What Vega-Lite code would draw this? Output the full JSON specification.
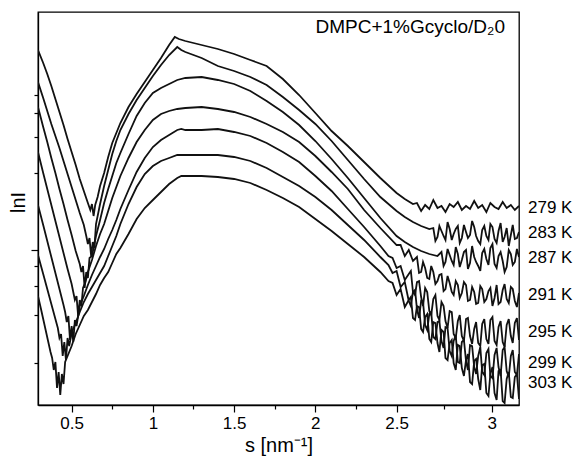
{
"$schema":"https://vega.github.io/schema/vega-lite/v6.json",
"width":481,"height":393,
"autosize":{"type":"none"},
"padding":{"left":38,"top":12,"right":59,"bottom":56},
"background":"white",
"config":{"font":"Liberation Sans","view":{"stroke":"#000","strokeWidth":1.3},"axis":{"domainColor":"#000","domainWidth":1.3,"tickColor":"#000","tickWidth":1.2,"labelColor":"#000","titleColor":"#000","grid":false}},
"title":{"text":"DMPC+1%Gcyclo/D₂0","anchor":"end","frame":"group","offset":-25,"dx":-14,"fontSize":19,"fontWeight":"normal","color":"#000","font":"Liberation Sans"},
"layer":[
{"data":{"values":[
{"T":"279 K","s":0.293,"lnI":362},{"T":"279 K","s":0.325,"lnI":349},{"T":"279 K","s":0.35,"lnI":338},{"T":"279 K","s":0.375,"lnI":326},{"T":"279 K","s":0.4,"lnI":313},{"T":"279 K","s":0.425,"lnI":300},{"T":"279 K","s":0.45,"lnI":287},{"T":"279 K","s":0.475,"lnI":273},{"T":"279 K","s":0.5,"lnI":260},{"T":"279 K","s":0.525,"lnI":247},{"T":"279 K","s":0.55,"lnI":233},{"T":"279 K","s":0.575,"lnI":221},{"T":"279 K","s":0.6,"lnI":209},{"T":"279 K","s":0.615,"lnI":202},{"T":"279 K","s":0.625,"lnI":208},{"T":"279 K","s":0.635,"lnI":196},{"T":"279 K","s":0.645,"lnI":207},{"T":"279 K","s":0.66,"lnI":215},{"T":"279 K","s":0.675,"lnI":226},{"T":"279 K","s":0.7,"lnI":239},{"T":"279 K","s":0.725,"lnI":255},{"T":"279 K","s":0.75,"lnI":269},{"T":"279 K","s":0.775,"lnI":279},{"T":"279 K","s":0.8,"lnI":289},{"T":"279 K","s":0.85,"lnI":305},{"T":"279 K","s":0.9,"lnI":318},{"T":"279 K","s":0.95,"lnI":330},{"T":"279 K","s":1.0,"lnI":342},{"T":"279 K","s":1.05,"lnI":354},{"T":"279 K","s":1.1,"lnI":367},{"T":"279 K","s":1.135,"lnI":375},{"T":"279 K","s":1.16,"lnI":373},{"T":"279 K","s":1.2,"lnI":371},{"T":"279 K","s":1.3,"lnI":367},{"T":"279 K","s":1.4,"lnI":363},{"T":"279 K","s":1.5,"lnI":358},{"T":"279 K","s":1.6,"lnI":352},{"T":"279 K","s":1.7,"lnI":346},{"T":"279 K","s":1.8,"lnI":333},{"T":"279 K","s":1.9,"lnI":317},{"T":"279 K","s":2.0,"lnI":299},{"T":"279 K","s":2.1,"lnI":281},{"T":"279 K","s":2.2,"lnI":266},{"T":"279 K","s":2.3,"lnI":250},{"T":"279 K","s":2.4,"lnI":234},{"T":"279 K","s":2.5,"lnI":219},{"T":"279 K","s":2.543,"lnI":213},{"T":"279 K","s":2.586,"lnI":208},
{"T":"279 K","s":2.607,"lnI":209},{"T":"279 K","s":2.629,"lnI":201},{"T":"279 K","s":2.65,"lnI":207},{"T":"279 K","s":2.672,"lnI":203},{"T":"279 K","s":2.693,"lnI":212},{"T":"279 K","s":2.715,"lnI":204},{"T":"279 K","s":2.736,"lnI":206},{"T":"279 K","s":2.757,"lnI":200},{"T":"279 K","s":2.779,"lnI":208},{"T":"279 K","s":2.8,"lnI":205},{"T":"279 K","s":2.822,"lnI":210},{"T":"279 K","s":2.843,"lnI":202},{"T":"279 K","s":2.865,"lnI":206},{"T":"279 K","s":2.886,"lnI":203},{"T":"279 K","s":2.908,"lnI":211},{"T":"279 K","s":2.929,"lnI":204},{"T":"279 K","s":2.95,"lnI":207},{"T":"279 K","s":2.972,"lnI":200},{"T":"279 K","s":2.993,"lnI":209},{"T":"279 K","s":3.015,"lnI":205},{"T":"279 K","s":3.036,"lnI":203},{"T":"279 K","s":3.058,"lnI":210},{"T":"279 K","s":3.079,"lnI":204},{"T":"279 K","s":3.101,"lnI":207},{"T":"279 K","s":3.122,"lnI":202},{"T":"279 K","s":3.144,"lnI":206},

{"T":"283 K","s":0.293,"lnI":330},{"T":"283 K","s":0.325,"lnI":314},{"T":"283 K","s":0.35,"lnI":301},{"T":"283 K","s":0.375,"lnI":288},{"T":"283 K","s":0.4,"lnI":276},{"T":"283 K","s":0.425,"lnI":264},{"T":"283 K","s":0.45,"lnI":251},{"T":"283 K","s":0.475,"lnI":238},{"T":"283 K","s":0.5,"lnI":225},{"T":"283 K","s":0.525,"lnI":212},{"T":"283 K","s":0.55,"lnI":199},{"T":"283 K","s":0.575,"lnI":187},{"T":"283 K","s":0.59,"lnI":176},{"T":"283 K","s":0.6,"lnI":168},{"T":"283 K","s":0.61,"lnI":174},{"T":"283 K","s":0.62,"lnI":156},{"T":"283 K","s":0.63,"lnI":170},{"T":"283 K","s":0.64,"lnI":164},{"T":"283 K","s":0.65,"lnI":188},{"T":"283 K","s":0.675,"lnI":208},{"T":"283 K","s":0.7,"lnI":226},{"T":"283 K","s":0.725,"lnI":242},{"T":"283 K","s":0.75,"lnI":258},{"T":"283 K","s":0.775,"lnI":271},{"T":"283 K","s":0.8,"lnI":282},{"T":"283 K","s":0.85,"lnI":298},{"T":"283 K","s":0.9,"lnI":312},{"T":"283 K","s":0.95,"lnI":324},{"T":"283 K","s":1.0,"lnI":336},{"T":"283 K","s":1.05,"lnI":347},{"T":"283 K","s":1.1,"lnI":357},{"T":"283 K","s":1.15,"lnI":365},{"T":"283 K","s":1.175,"lnI":362},{"T":"283 K","s":1.2,"lnI":360},{"T":"283 K","s":1.3,"lnI":354},{"T":"283 K","s":1.4,"lnI":346},{"T":"283 K","s":1.5,"lnI":341},{"T":"283 K","s":1.6,"lnI":335},{"T":"283 K","s":1.7,"lnI":327},{"T":"283 K","s":1.8,"lnI":315},{"T":"283 K","s":1.9,"lnI":302},{"T":"283 K","s":2.0,"lnI":288},{"T":"283 K","s":2.1,"lnI":271},{"T":"283 K","s":2.2,"lnI":252},{"T":"283 K","s":2.3,"lnI":233},{"T":"283 K","s":2.4,"lnI":215},{"T":"283 K","s":2.5,"lnI":201},{"T":"283 K","s":2.543,"lnI":195},{"T":"283 K","s":2.586,"lnI":190},{"T":"283 K","s":2.629,"lnI":186},{"T":"283 K","s":2.672,"lnI":183},
{"T":"283 K","s":2.693,"lnI":184},{"T":"283 K","s":2.704,"lnI":171},{"T":"283 K","s":2.715,"lnI":175},{"T":"283 K","s":2.725,"lnI":186},{"T":"283 K","s":2.736,"lnI":181},{"T":"283 K","s":2.747,"lnI":176},{"T":"283 K","s":2.757,"lnI":172},{"T":"283 K","s":2.768,"lnI":190},{"T":"283 K","s":2.779,"lnI":183},{"T":"283 K","s":2.79,"lnI":172},{"T":"283 K","s":2.8,"lnI":178},{"T":"283 K","s":2.811,"lnI":183},{"T":"283 K","s":2.822,"lnI":186},{"T":"283 K","s":2.832,"lnI":169},{"T":"283 K","s":2.843,"lnI":174},{"T":"283 K","s":2.854,"lnI":187},{"T":"283 K","s":2.865,"lnI":180},{"T":"283 K","s":2.875,"lnI":174},{"T":"283 K","s":2.886,"lnI":177},{"T":"283 K","s":2.897,"lnI":191},{"T":"283 K","s":2.908,"lnI":185},{"T":"283 K","s":2.918,"lnI":176},{"T":"283 K","s":2.929,"lnI":171},{"T":"283 K","s":2.94,"lnI":168},{"T":"283 K","s":2.95,"lnI":182},{"T":"283 K","s":2.961,"lnI":186},{"T":"283 K","s":2.972,"lnI":176},{"T":"283 K","s":2.983,"lnI":172},{"T":"283 K","s":2.993,"lnI":188},{"T":"283 K","s":3.004,"lnI":185},{"T":"283 K","s":3.015,"lnI":173},{"T":"283 K","s":3.026,"lnI":169},{"T":"283 K","s":3.036,"lnI":181},{"T":"283 K","s":3.047,"lnI":189},{"T":"283 K","s":3.058,"lnI":170},{"T":"283 K","s":3.068,"lnI":175},{"T":"283 K","s":3.079,"lnI":184},{"T":"283 K","s":3.09,"lnI":166},{"T":"283 K","s":3.101,"lnI":177},{"T":"283 K","s":3.111,"lnI":187},{"T":"283 K","s":3.122,"lnI":173},{"T":"283 K","s":3.133,"lnI":174},{"T":"283 K","s":3.144,"lnI":180},

{"T":"287 K","s":0.293,"lnI":305},{"T":"287 K","s":0.325,"lnI":285},{"T":"287 K","s":0.35,"lnI":270},{"T":"287 K","s":0.375,"lnI":254},{"T":"287 K","s":0.4,"lnI":239},{"T":"287 K","s":0.425,"lnI":223},{"T":"287 K","s":0.45,"lnI":208},{"T":"287 K","s":0.475,"lnI":192},{"T":"287 K","s":0.5,"lnI":177},{"T":"287 K","s":0.525,"lnI":161},{"T":"287 K","s":0.55,"lnI":148},{"T":"287 K","s":0.56,"lnI":140},{"T":"287 K","s":0.57,"lnI":146},{"T":"287 K","s":0.58,"lnI":124},{"T":"287 K","s":0.59,"lnI":140},{"T":"287 K","s":0.6,"lnI":134},{"T":"287 K","s":0.61,"lnI":154},{"T":"287 K","s":0.625,"lnI":156},{"T":"287 K","s":0.65,"lnI":176},{"T":"287 K","s":0.675,"lnI":192},{"T":"287 K","s":0.7,"lnI":209},{"T":"287 K","s":0.725,"lnI":223},{"T":"287 K","s":0.75,"lnI":236},{"T":"287 K","s":0.775,"lnI":249},{"T":"287 K","s":0.8,"lnI":259},{"T":"287 K","s":0.85,"lnI":278},{"T":"287 K","s":0.9,"lnI":296},{"T":"287 K","s":0.95,"lnI":309},{"T":"287 K","s":1.0,"lnI":319},{"T":"287 K","s":1.05,"lnI":324},{"T":"287 K","s":1.1,"lnI":328},{"T":"287 K","s":1.15,"lnI":332},{"T":"287 K","s":1.2,"lnI":334},{"T":"287 K","s":1.3,"lnI":335},{"T":"287 K","s":1.4,"lnI":332},{"T":"287 K","s":1.5,"lnI":328},{"T":"287 K","s":1.6,"lnI":321},{"T":"287 K","s":1.7,"lnI":311},{"T":"287 K","s":1.8,"lnI":300},{"T":"287 K","s":1.9,"lnI":287},{"T":"287 K","s":2.0,"lnI":271},{"T":"287 K","s":2.1,"lnI":253},{"T":"287 K","s":2.2,"lnI":234},{"T":"287 K","s":2.3,"lnI":214},{"T":"287 K","s":2.4,"lnI":194},{"T":"287 K","s":2.5,"lnI":176},{"T":"287 K","s":2.543,"lnI":170},{"T":"287 K","s":2.586,"lnI":165},{"T":"287 K","s":2.629,"lnI":161},{"T":"287 K","s":2.672,"lnI":158},{"T":"287 K","s":2.715,"lnI":156},
{"T":"287 K","s":2.736,"lnI":160},{"T":"287 K","s":2.747,"lnI":146},{"T":"287 K","s":2.757,"lnI":150},{"T":"287 K","s":2.768,"lnI":163},{"T":"287 K","s":2.779,"lnI":157},{"T":"287 K","s":2.79,"lnI":151},{"T":"287 K","s":2.8,"lnI":147},{"T":"287 K","s":2.811,"lnI":165},{"T":"287 K","s":2.822,"lnI":158},{"T":"287 K","s":2.832,"lnI":145},{"T":"287 K","s":2.843,"lnI":152},{"T":"287 K","s":2.854,"lnI":160},{"T":"287 K","s":2.865,"lnI":162},{"T":"287 K","s":2.875,"lnI":143},{"T":"287 K","s":2.886,"lnI":149},{"T":"287 K","s":2.897,"lnI":166},{"T":"287 K","s":2.908,"lnI":155},{"T":"287 K","s":2.918,"lnI":150},{"T":"287 K","s":2.929,"lnI":146},{"T":"287 K","s":2.94,"lnI":141},{"T":"287 K","s":2.95,"lnI":159},{"T":"287 K","s":2.961,"lnI":163},{"T":"287 K","s":2.972,"lnI":153},{"T":"287 K","s":2.983,"lnI":147},{"T":"287 K","s":2.993,"lnI":164},{"T":"287 K","s":3.004,"lnI":168},{"T":"287 K","s":3.015,"lnI":148},{"T":"287 K","s":3.026,"lnI":144},{"T":"287 K","s":3.036,"lnI":156},{"T":"287 K","s":3.047,"lnI":160},{"T":"287 K","s":3.058,"lnI":151},{"T":"287 K","s":3.068,"lnI":140},{"T":"287 K","s":3.079,"lnI":145},{"T":"287 K","s":3.09,"lnI":162},{"T":"287 K","s":3.101,"lnI":158},{"T":"287 K","s":3.111,"lnI":147},{"T":"287 K","s":3.122,"lnI":150},{"T":"287 K","s":3.133,"lnI":163},{"T":"287 K","s":3.144,"lnI":155},

{"T":"291 K","s":0.293,"lnI":260},{"T":"291 K","s":0.325,"lnI":239},{"T":"291 K","s":0.35,"lnI":223},{"T":"291 K","s":0.375,"lnI":207},{"T":"291 K","s":0.4,"lnI":191},{"T":"291 K","s":0.425,"lnI":175},{"T":"291 K","s":0.45,"lnI":159},{"T":"291 K","s":0.475,"lnI":143},{"T":"291 K","s":0.5,"lnI":128},{"T":"291 K","s":0.51,"lnI":120},{"T":"291 K","s":0.52,"lnI":112},{"T":"291 K","s":0.53,"lnI":116},{"T":"291 K","s":0.54,"lnI":96},{"T":"291 K","s":0.55,"lnI":112},{"T":"291 K","s":0.56,"lnI":106},{"T":"291 K","s":0.57,"lnI":124},{"T":"291 K","s":0.585,"lnI":130},{"T":"291 K","s":0.6,"lnI":140},{"T":"291 K","s":0.625,"lnI":152},{"T":"291 K","s":0.65,"lnI":166},{"T":"291 K","s":0.675,"lnI":178},{"T":"291 K","s":0.7,"lnI":188},{"T":"291 K","s":0.725,"lnI":201},{"T":"291 K","s":0.75,"lnI":214},{"T":"291 K","s":0.775,"lnI":225},{"T":"291 K","s":0.8,"lnI":236},{"T":"291 K","s":0.85,"lnI":254},{"T":"291 K","s":0.9,"lnI":270},{"T":"291 K","s":0.95,"lnI":282},{"T":"291 K","s":1.0,"lnI":292},{"T":"291 K","s":1.05,"lnI":298},{"T":"291 K","s":1.1,"lnI":301},{"T":"291 K","s":1.15,"lnI":303},{"T":"291 K","s":1.2,"lnI":304},{"T":"291 K","s":1.3,"lnI":305},{"T":"291 K","s":1.4,"lnI":303},{"T":"291 K","s":1.5,"lnI":300},{"T":"291 K","s":1.6,"lnI":295},{"T":"291 K","s":1.7,"lnI":288},{"T":"291 K","s":1.8,"lnI":280},{"T":"291 K","s":1.9,"lnI":270},{"T":"291 K","s":2.0,"lnI":256},{"T":"291 K","s":2.1,"lnI":240},{"T":"291 K","s":2.2,"lnI":223},{"T":"291 K","s":2.3,"lnI":202},{"T":"291 K","s":2.4,"lnI":184},{"T":"291 K","s":2.5,"lnI":167},
{"T":"291 K","s":2.521,"lnI":167},{"T":"291 K","s":2.543,"lnI":156},{"T":"291 K","s":2.564,"lnI":162},{"T":"291 K","s":2.586,"lnI":151},{"T":"291 K","s":2.607,"lnI":155},{"T":"291 K","s":2.618,"lnI":139},{"T":"291 K","s":2.629,"lnI":140},{"T":"291 K","s":2.639,"lnI":150},{"T":"291 K","s":2.65,"lnI":144},{"T":"291 K","s":2.661,"lnI":134},{"T":"291 K","s":2.672,"lnI":133},{"T":"291 K","s":2.682,"lnI":146},{"T":"291 K","s":2.693,"lnI":140},{"T":"291 K","s":2.704,"lnI":128},{"T":"291 K","s":2.715,"lnI":131},{"T":"291 K","s":2.725,"lnI":137},{"T":"291 K","s":2.736,"lnI":138},{"T":"291 K","s":2.747,"lnI":121},{"T":"291 K","s":2.757,"lnI":123},{"T":"291 K","s":2.768,"lnI":136},{"T":"291 K","s":2.779,"lnI":129},{"T":"291 K","s":2.79,"lnI":120},{"T":"291 K","s":2.8,"lnI":117},{"T":"291 K","s":2.811,"lnI":131},{"T":"291 K","s":2.822,"lnI":127},{"T":"291 K","s":2.832,"lnI":114},{"T":"291 K","s":2.843,"lnI":119},{"T":"291 K","s":2.854,"lnI":130},{"T":"291 K","s":2.865,"lnI":127},{"T":"291 K","s":2.875,"lnI":111},{"T":"291 K","s":2.886,"lnI":112},{"T":"291 K","s":2.897,"lnI":125},{"T":"291 K","s":2.908,"lnI":120},{"T":"291 K","s":2.918,"lnI":108},{"T":"291 K","s":2.929,"lnI":109},{"T":"291 K","s":2.94,"lnI":126},{"T":"291 K","s":2.95,"lnI":123},{"T":"291 K","s":2.961,"lnI":110},{"T":"291 K","s":2.972,"lnI":113},{"T":"291 K","s":2.983,"lnI":121},{"T":"291 K","s":2.993,"lnI":124},{"T":"291 K","s":3.004,"lnI":106},{"T":"291 K","s":3.015,"lnI":114},{"T":"291 K","s":3.026,"lnI":127},{"T":"291 K","s":3.036,"lnI":108},{"T":"291 K","s":3.047,"lnI":110},{"T":"291 K","s":3.058,"lnI":122},{"T":"291 K","s":3.068,"lnI":128},{"T":"291 K","s":3.079,"lnI":113},{"T":"291 K","s":3.09,"lnI":109},{"T":"291 K","s":3.101,"lnI":125},{"T":"291 K","s":3.111,"lnI":123},{"T":"291 K","s":3.122,"lnI":111},{"T":"291 K","s":3.133,"lnI":105},{"T":"291 K","s":3.144,"lnI":119},

{"T":"295 K","s":0.293,"lnI":207},{"T":"295 K","s":0.325,"lnI":187},{"T":"295 K","s":0.35,"lnI":171},{"T":"295 K","s":0.375,"lnI":155},{"T":"295 K","s":0.4,"lnI":139},{"T":"295 K","s":0.425,"lnI":123},{"T":"295 K","s":0.45,"lnI":107},{"T":"295 K","s":0.46,"lnI":100},{"T":"295 K","s":0.47,"lnI":90},{"T":"295 K","s":0.48,"lnI":96},{"T":"295 K","s":0.49,"lnI":72},{"T":"295 K","s":0.5,"lnI":86},{"T":"295 K","s":0.51,"lnI":70},{"T":"295 K","s":0.52,"lnI":92},{"T":"295 K","s":0.53,"lnI":86},{"T":"295 K","s":0.55,"lnI":106},{"T":"295 K","s":0.575,"lnI":116},{"T":"295 K","s":0.6,"lnI":127},{"T":"295 K","s":0.625,"lnI":137},{"T":"295 K","s":0.65,"lnI":146},{"T":"295 K","s":0.675,"lnI":155},{"T":"295 K","s":0.7,"lnI":163},{"T":"295 K","s":0.725,"lnI":173},{"T":"295 K","s":0.75,"lnI":182},{"T":"295 K","s":0.775,"lnI":192},{"T":"295 K","s":0.8,"lnI":203},{"T":"295 K","s":0.85,"lnI":222},{"T":"295 K","s":0.9,"lnI":240},{"T":"295 K","s":0.95,"lnI":254},{"T":"295 K","s":1.0,"lnI":265},{"T":"295 K","s":1.05,"lnI":272},{"T":"295 K","s":1.1,"lnI":277},{"T":"295 K","s":1.15,"lnI":282},{"T":"295 K","s":1.175,"lnI":283},{"T":"295 K","s":1.2,"lnI":282},{"T":"295 K","s":1.3,"lnI":282},{"T":"295 K","s":1.4,"lnI":283},{"T":"295 K","s":1.5,"lnI":280},{"T":"295 K","s":1.6,"lnI":276},{"T":"295 K","s":1.7,"lnI":269},{"T":"295 K","s":1.8,"lnI":260},{"T":"295 K","s":1.9,"lnI":250},{"T":"295 K","s":2.0,"lnI":236},{"T":"295 K","s":2.1,"lnI":221},{"T":"295 K","s":2.2,"lnI":203},{"T":"295 K","s":2.3,"lnI":185},{"T":"295 K","s":2.4,"lnI":166},{"T":"295 K","s":2.45,"lnI":156},
{"T":"295 K","s":2.475,"lnI":154},{"T":"295 K","s":2.5,"lnI":144},{"T":"295 K","s":2.521,"lnI":146},{"T":"295 K","s":2.543,"lnI":132},{"T":"295 K","s":2.564,"lnI":138},{"T":"295 K","s":2.575,"lnI":141},{"T":"295 K","s":2.586,"lnI":120},{"T":"295 K","s":2.597,"lnI":117},{"T":"295 K","s":2.607,"lnI":130},{"T":"295 K","s":2.618,"lnI":131},{"T":"295 K","s":2.629,"lnI":115},{"T":"295 K","s":2.639,"lnI":106},{"T":"295 K","s":2.65,"lnI":124},{"T":"295 K","s":2.661,"lnI":120},{"T":"295 K","s":2.672,"lnI":101},{"T":"295 K","s":2.682,"lnI":97},{"T":"295 K","s":2.693,"lnI":113},{"T":"295 K","s":2.704,"lnI":117},{"T":"295 K","s":2.715,"lnI":96},{"T":"295 K","s":2.725,"lnI":92},{"T":"295 K","s":2.736,"lnI":110},{"T":"295 K","s":2.747,"lnI":106},{"T":"295 K","s":2.757,"lnI":91},{"T":"295 K","s":2.768,"lnI":84},{"T":"295 K","s":2.779,"lnI":101},{"T":"295 K","s":2.79,"lnI":100},{"T":"295 K","s":2.8,"lnI":78},{"T":"295 K","s":2.811,"lnI":74},{"T":"295 K","s":2.822,"lnI":91},{"T":"295 K","s":2.832,"lnI":97},{"T":"295 K","s":2.843,"lnI":76},{"T":"295 K","s":2.854,"lnI":71},{"T":"295 K","s":2.865,"lnI":93},{"T":"295 K","s":2.875,"lnI":94},{"T":"295 K","s":2.886,"lnI":76},{"T":"295 K","s":2.897,"lnI":68},{"T":"295 K","s":2.908,"lnI":83},{"T":"295 K","s":2.918,"lnI":90},{"T":"295 K","s":2.929,"lnI":69},{"T":"295 K","s":2.94,"lnI":66},{"T":"295 K","s":2.95,"lnI":88},{"T":"295 K","s":2.961,"lnI":93},{"T":"295 K","s":2.972,"lnI":73},{"T":"295 K","s":2.983,"lnI":68},{"T":"295 K","s":2.993,"lnI":92},{"T":"295 K","s":3.004,"lnI":95},{"T":"295 K","s":3.015,"lnI":71},{"T":"295 K","s":3.026,"lnI":67},{"T":"295 K","s":3.036,"lnI":85},{"T":"295 K","s":3.047,"lnI":91},{"T":"295 K","s":3.058,"lnI":70},{"T":"295 K","s":3.068,"lnI":65},{"T":"295 K","s":3.079,"lnI":87},{"T":"295 K","s":3.09,"lnI":93},{"T":"295 K","s":3.101,"lnI":76},{"T":"295 K","s":3.111,"lnI":69},{"T":"295 K","s":3.122,"lnI":89},{"T":"295 K","s":3.133,"lnI":94},{"T":"295 K","s":3.144,"lnI":72},

{"T":"299 K","s":0.293,"lnI":157},{"T":"299 K","s":0.325,"lnI":138},{"T":"299 K","s":0.35,"lnI":123},{"T":"299 K","s":0.375,"lnI":108},{"T":"299 K","s":0.4,"lnI":93},{"T":"299 K","s":0.415,"lnI":84},{"T":"299 K","s":0.425,"lnI":74},{"T":"299 K","s":0.435,"lnI":78},{"T":"299 K","s":0.445,"lnI":56},{"T":"299 K","s":0.455,"lnI":70},{"T":"299 K","s":0.465,"lnI":52},{"T":"299 K","s":0.475,"lnI":74},{"T":"299 K","s":0.485,"lnI":66},{"T":"299 K","s":0.5,"lnI":79},{"T":"299 K","s":0.525,"lnI":89},{"T":"299 K","s":0.55,"lnI":100},{"T":"299 K","s":0.575,"lnI":110},{"T":"299 K","s":0.6,"lnI":118},{"T":"299 K","s":0.625,"lnI":125},{"T":"299 K","s":0.65,"lnI":132},{"T":"299 K","s":0.675,"lnI":139},{"T":"299 K","s":0.7,"lnI":146},{"T":"299 K","s":0.725,"lnI":156},{"T":"299 K","s":0.75,"lnI":166},{"T":"299 K","s":0.775,"lnI":176},{"T":"299 K","s":0.8,"lnI":188},{"T":"299 K","s":0.85,"lnI":208},{"T":"299 K","s":0.9,"lnI":225},{"T":"299 K","s":0.95,"lnI":238},{"T":"299 K","s":1.0,"lnI":246},{"T":"299 K","s":1.05,"lnI":251},{"T":"299 K","s":1.1,"lnI":254},{"T":"299 K","s":1.15,"lnI":257},{"T":"299 K","s":1.2,"lnI":257},{"T":"299 K","s":1.3,"lnI":257},{"T":"299 K","s":1.4,"lnI":257},{"T":"299 K","s":1.5,"lnI":255},{"T":"299 K","s":1.6,"lnI":251},{"T":"299 K","s":1.7,"lnI":244},{"T":"299 K","s":1.8,"lnI":235},{"T":"299 K","s":1.9,"lnI":226},{"T":"299 K","s":2.0,"lnI":215},{"T":"299 K","s":2.1,"lnI":202},{"T":"299 K","s":2.2,"lnI":187},{"T":"299 K","s":2.3,"lnI":172},{"T":"299 K","s":2.4,"lnI":155},{"T":"299 K","s":2.45,"lnI":147},
{"T":"299 K","s":2.475,"lnI":139},{"T":"299 K","s":2.5,"lnI":141},{"T":"299 K","s":2.521,"lnI":125},{"T":"299 K","s":2.543,"lnI":130},{"T":"299 K","s":2.564,"lnI":111},{"T":"299 K","s":2.575,"lnI":106},{"T":"299 K","s":2.586,"lnI":120},{"T":"299 K","s":2.597,"lnI":122},{"T":"299 K","s":2.607,"lnI":103},{"T":"299 K","s":2.618,"lnI":94},{"T":"299 K","s":2.629,"lnI":111},{"T":"299 K","s":2.639,"lnI":110},{"T":"299 K","s":2.65,"lnI":87},{"T":"299 K","s":2.661,"lnI":82},{"T":"299 K","s":2.672,"lnI":98},{"T":"299 K","s":2.682,"lnI":100},{"T":"299 K","s":2.693,"lnI":75},{"T":"299 K","s":2.704,"lnI":73},{"T":"299 K","s":2.715,"lnI":90},{"T":"299 K","s":2.725,"lnI":91},{"T":"299 K","s":2.736,"lnI":71},{"T":"299 K","s":2.747,"lnI":64},{"T":"299 K","s":2.757,"lnI":85},{"T":"299 K","s":2.768,"lnI":84},{"T":"299 K","s":2.779,"lnI":61},{"T":"299 K","s":2.79,"lnI":56},{"T":"299 K","s":2.8,"lnI":71},{"T":"299 K","s":2.811,"lnI":77},{"T":"299 K","s":2.822,"lnI":50},{"T":"299 K","s":2.832,"lnI":49},{"T":"299 K","s":2.843,"lnI":70},{"T":"299 K","s":2.854,"lnI":72},{"T":"299 K","s":2.865,"lnI":51},{"T":"299 K","s":2.875,"lnI":42},{"T":"299 K","s":2.886,"lnI":67},{"T":"299 K","s":2.897,"lnI":66},{"T":"299 K","s":2.908,"lnI":45},{"T":"299 K","s":2.918,"lnI":38},{"T":"299 K","s":2.929,"lnI":56},{"T":"299 K","s":2.94,"lnI":65},{"T":"299 K","s":2.95,"lnI":40},{"T":"299 K","s":2.961,"lnI":37},{"T":"299 K","s":2.972,"lnI":59},{"T":"299 K","s":2.983,"lnI":63},{"T":"299 K","s":2.993,"lnI":36},{"T":"299 K","s":3.004,"lnI":34},{"T":"299 K","s":3.015,"lnI":57},{"T":"299 K","s":3.026,"lnI":64},{"T":"299 K","s":3.036,"lnI":45},{"T":"299 K","s":3.047,"lnI":36},{"T":"299 K","s":3.058,"lnI":62},{"T":"299 K","s":3.068,"lnI":65},{"T":"299 K","s":3.079,"lnI":41},{"T":"299 K","s":3.09,"lnI":35},{"T":"299 K","s":3.101,"lnI":56},{"T":"299 K","s":3.111,"lnI":62},{"T":"299 K","s":3.122,"lnI":40},{"T":"299 K","s":3.133,"lnI":37},{"T":"299 K","s":3.144,"lnI":58},

{"T":"303 K","s":0.293,"lnI":116},{"T":"303 K","s":0.31,"lnI":104},{"T":"303 K","s":0.325,"lnI":93},{"T":"303 K","s":0.34,"lnI":82},{"T":"303 K","s":0.355,"lnI":71},{"T":"303 K","s":0.37,"lnI":60},{"T":"303 K","s":0.38,"lnI":54},{"T":"303 K","s":0.39,"lnI":42},{"T":"303 K","s":0.4,"lnI":50},{"T":"303 K","s":0.41,"lnI":24},{"T":"303 K","s":0.42,"lnI":40},{"T":"303 K","s":0.43,"lnI":17},{"T":"303 K","s":0.44,"lnI":38},{"T":"303 K","s":0.45,"lnI":28},{"T":"303 K","s":0.46,"lnI":50},{"T":"303 K","s":0.475,"lnI":56},{"T":"303 K","s":0.5,"lnI":66},{"T":"303 K","s":0.525,"lnI":78},{"T":"303 K","s":0.55,"lnI":87},{"T":"303 K","s":0.575,"lnI":96},{"T":"303 K","s":0.6,"lnI":102},{"T":"303 K","s":0.625,"lnI":110},{"T":"303 K","s":0.65,"lnI":118},{"T":"303 K","s":0.675,"lnI":127},{"T":"303 K","s":0.7,"lnI":134},{"T":"303 K","s":0.725,"lnI":140},{"T":"303 K","s":0.75,"lnI":149},{"T":"303 K","s":0.775,"lnI":158},{"T":"303 K","s":0.8,"lnI":164},{"T":"303 K","s":0.85,"lnI":178},{"T":"303 K","s":0.9,"lnI":193},{"T":"303 K","s":0.95,"lnI":204},{"T":"303 K","s":1.0,"lnI":212},{"T":"303 K","s":1.05,"lnI":220},{"T":"303 K","s":1.1,"lnI":228},{"T":"303 K","s":1.15,"lnI":234},{"T":"303 K","s":1.175,"lnI":236},{"T":"303 K","s":1.2,"lnI":236},{"T":"303 K","s":1.3,"lnI":236},{"T":"303 K","s":1.4,"lnI":235},{"T":"303 K","s":1.5,"lnI":233},{"T":"303 K","s":1.6,"lnI":229},{"T":"303 K","s":1.7,"lnI":222},{"T":"303 K","s":1.8,"lnI":214},{"T":"303 K","s":1.9,"lnI":205},{"T":"303 K","s":2.0,"lnI":193},{"T":"303 K","s":2.1,"lnI":181},{"T":"303 K","s":2.2,"lnI":168},{"T":"303 K","s":2.3,"lnI":155},{"T":"303 K","s":2.4,"lnI":140},{"T":"303 K","s":2.45,"lnI":131},
{"T":"303 K","s":2.475,"lnI":129},{"T":"303 K","s":2.5,"lnI":117},{"T":"303 K","s":2.521,"lnI":123},{"T":"303 K","s":2.543,"lnI":105},{"T":"303 K","s":2.564,"lnI":112},{"T":"303 K","s":2.575,"lnI":115},{"T":"303 K","s":2.586,"lnI":94},{"T":"303 K","s":2.597,"lnI":92},{"T":"303 K","s":2.607,"lnI":106},{"T":"303 K","s":2.618,"lnI":105},{"T":"303 K","s":2.629,"lnI":83},{"T":"303 K","s":2.639,"lnI":80},{"T":"303 K","s":2.65,"lnI":95},{"T":"303 K","s":2.661,"lnI":98},{"T":"303 K","s":2.672,"lnI":73},{"T":"303 K","s":2.682,"lnI":70},{"T":"303 K","s":2.693,"lnI":90},{"T":"303 K","s":2.704,"lnI":89},{"T":"303 K","s":2.715,"lnI":69},{"T":"303 K","s":2.725,"lnI":60},{"T":"303 K","s":2.736,"lnI":82},{"T":"303 K","s":2.747,"lnI":80},{"T":"303 K","s":2.757,"lnI":54},{"T":"303 K","s":2.768,"lnI":52},{"T":"303 K","s":2.779,"lnI":69},{"T":"303 K","s":2.79,"lnI":72},{"T":"303 K","s":2.8,"lnI":49},{"T":"303 K","s":2.811,"lnI":42},{"T":"303 K","s":2.822,"lnI":67},{"T":"303 K","s":2.832,"lnI":66},{"T":"303 K","s":2.843,"lnI":44},{"T":"303 K","s":2.854,"lnI":36},{"T":"303 K","s":2.865,"lnI":52},{"T":"303 K","s":2.875,"lnI":58},{"T":"303 K","s":2.886,"lnI":30},{"T":"303 K","s":2.897,"lnI":28},{"T":"303 K","s":2.908,"lnI":51},{"T":"303 K","s":2.918,"lnI":53},{"T":"303 K","s":2.929,"lnI":33},{"T":"303 K","s":2.94,"lnI":22},{"T":"303 K","s":2.95,"lnI":47},{"T":"303 K","s":2.961,"lnI":48},{"T":"303 K","s":2.972,"lnI":19},{"T":"303 K","s":2.983,"lnI":16},{"T":"303 K","s":2.993,"lnI":38},{"T":"303 K","s":3.004,"lnI":45},{"T":"303 K","s":3.015,"lnI":19},{"T":"303 K","s":3.026,"lnI":12},{"T":"303 K","s":3.036,"lnI":41},{"T":"303 K","s":3.047,"lnI":42},{"T":"303 K","s":3.058,"lnI":11},{"T":"303 K","s":3.068,"lnI":9},{"T":"303 K","s":3.079,"lnI":33},{"T":"303 K","s":3.09,"lnI":40},{"T":"303 K","s":3.101,"lnI":15},{"T":"303 K","s":3.111,"lnI":14},{"T":"303 K","s":3.122,"lnI":35},{"T":"303 K","s":3.133,"lnI":38},{"T":"303 K","s":3.144,"lnI":13}
]},
"mark":{"type":"line","color":"#111","strokeWidth":1.8,"clip":true,"strokeJoin":"miter"},
"encoding":{
"x":{"field":"s","type":"quantitative","scale":{"domain":[0.293,2.5,3,3.144],"range":[0,358.6,453.7,481],"nice":false,"zero":false},
"axis":{"values":[0.5,0.75,1,1.25,1.5,1.75,2,2.25,2.5,2.75,3],"labelExpr":"datum.value % 0.5 == 0 ? format(datum.value,'~g') : ''","labelOverlap":false,"labelFlush":false,"tickSize":{"condition":{"test":"datum.value % 0.5 == 0","value":7},"value":4},"labelFontSize":17,"labelPadding":3,"title":"s [nm⁻¹]","titleFontSize":20,"titleFontWeight":"normal","titlePadding":4}},
"y":{"field":"lnI","type":"quantitative","scale":{"domain":[7,400],"nice":false,"zero":false},
"axis":{"values":[48.8,77.3,97.5,113.2,126.1,136.9,146.3,154.6,162,210.8,239.3,259.5,275.2,288.1,298.9,308.3,316.6,324],"labels":false,"tickSize":{"condition":{"test":"datum.value == 162 || datum.value == 324","value":7},"value":4},"title":"lnI","titleFontSize":20,"titleFontWeight":"normal","titleX":-10,"titleY":190}},
"detail":{"field":"T"}}},
{"data":{"values":[{"T":"279 K","lnI":204},{"T":"283 K","lnI":179},{"T":"287 K","lnI":154},{"T":"291 K","lnI":117},{"T":"295 K","lnI":80},{"T":"299 K","lnI":49},{"T":"303 K","lnI":29}]},
"mark":{"type":"text","align":"left","baseline":"middle","dx":9,"fontSize":17,"color":"#000"},
"encoding":{"x":{"datum":3.144,"type":"quantitative"},"y":{"field":"lnI","type":"quantitative"},"text":{"field":"T"}}}
]
}
